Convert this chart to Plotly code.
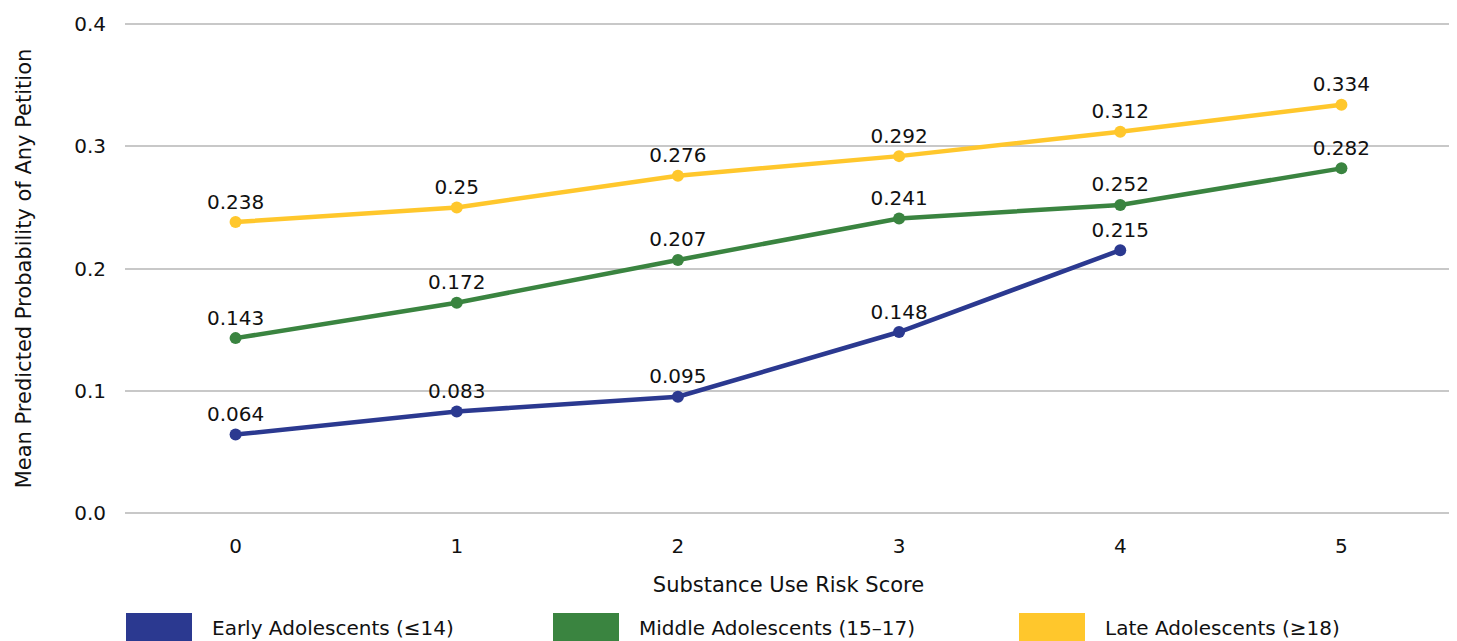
import plotly.graph_objects as go

scores = [0, 1, 2, 3, 4, 5]
early = [0.064, 0.083, 0.095, 0.148, 0.215]
middle = [0.143, 0.172, 0.207, 0.241, 0.252, 0.282]
late = [0.238, 0.25, 0.276, 0.292, 0.312, 0.334]
series_names = ["Early Adolescents (≤14)", "Middle Adolescents (15–17)", "Late Adolescents (≥18)"]
colors = ["#2B3990", "#3A8440", "#FFC72C"]
y_ticks = [0.0, 0.1, 0.2, 0.3, 0.4]
y_tick_labels = ["0.0", "0.1", "0.2", "0.3", "0.4"]

FONT = "DejaVu Sans"
OFF = 8  # page body margin
W, H = 1457 - OFF, 641 - OFF
ML, MR, MT, MB = 125 - OFF, 5, 23 - OFF, 127
PW, PH = W - ML - MR, H - MT - MB

fig = go.Figure()
for name, vals, col in zip(series_names, [early, middle, late], colors):
    fig.add_trace(go.Scatter(
        x=scores[:len(vals)], y=vals, mode="lines+markers+text",
        name=name, line=dict(color=col, width=4.5),
        marker=dict(color=col, size=12),
        text=[f"{v:g}" for v in vals], textposition="top center",
        textfont=dict(family=FONT, size=20, color="#111111"),
        showlegend=False, cliponaxis=False,
    ))

def px_x(px):  # reference pixel -> paper
    return (px - OFF - ML) / PW

def px_y(py):
    return (H - MB - (py - OFF)) / PH

shapes = []
annotations = []
legend_x = [126, 553, 1019]
for name, col, lx in zip(series_names, colors, legend_x):
    shapes.append(dict(type="rect", xref="paper", yref="paper",
                       x0=px_x(lx), x1=px_x(lx + 66), y0=px_y(645), y1=px_y(613),
                       fillcolor=col, line=dict(width=0), layer="above"))
    annotations.append(dict(xref="paper", yref="paper", x=px_x(lx + 84), y=px_y(628),
                            text=name, showarrow=False, xanchor="left", yanchor="middle",
                            font=dict(family=FONT, size=20, color="#111111")))

fig.update_layout(
    width=W, height=H,
    margin=dict(l=ML, r=MR, t=MT, b=MB),
    plot_bgcolor="white", paper_bgcolor="white",
    font=dict(family=FONT, size=20, color="#111111"),
    shapes=shapes, annotations=annotations,
    xaxis=dict(range=[-0.5, 5.5], tickvals=scores, ticktext=[str(s) for s in scores],
               showgrid=False, zeroline=False, showline=False, ticks="",
               ticklabelstandoff=18,
               title=dict(text="Substance Use Risk Score", font=dict(size=21), standoff=20),
               tickfont=dict(size=20)),
    yaxis=dict(range=[-0.001, 0.401], tickvals=y_ticks, ticktext=y_tick_labels,
               showgrid=True, gridcolor="#C8C8C8", gridwidth=2, zeroline=False,
               showline=False, ticks="", ticklabelstandoff=18,
               title=dict(text="Mean Predicted Probability of Any Petition", font=dict(size=21), standoff=36),
               tickfont=dict(size=20)),
)

fig.write_html("out.html")
